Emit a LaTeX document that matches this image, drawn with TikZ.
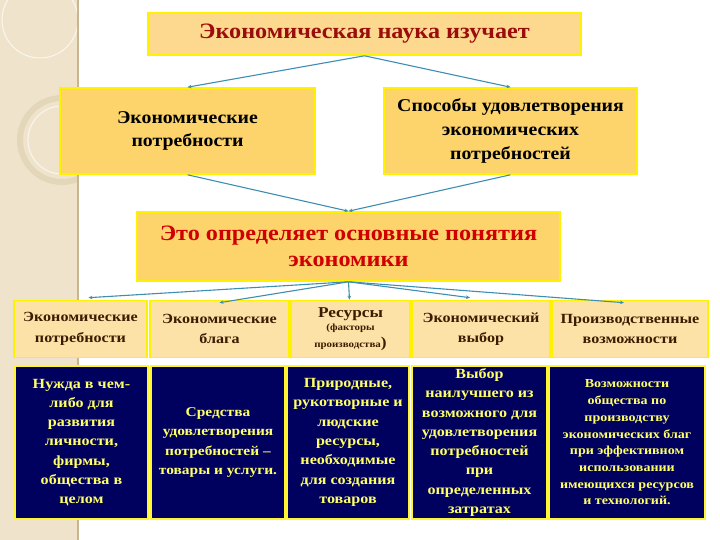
\documentclass[tikz,border=0pt]{standalone}
\usepackage{fontspec}
\setmainfont{Liberation Serif}
\newfontfamily\upfont[FakeStretch=1.1]{Liberation Serif}
\newfontfamily\lowfont[FakeStretch=1.15]{Liberation Serif}
\usetikzlibrary{arrows.meta,calc}
\definecolor{stripe}{HTML}{EFE4CB}
\definecolor{stripeline}{HTML}{C9B690}
\definecolor{topfill}{HTML}{FCD98E}
\definecolor{midfill}{HTML}{FDD46C}
\definecolor{rowfill}{HTML}{FCE2A6}
\definecolor{bord}{HTML}{FFF200}
\definecolor{navy}{HTML}{00005E}
\definecolor{ytext}{HTML}{FFFF66}
\definecolor{dred}{HTML}{9B0D0D}
\definecolor{rred}{HTML}{D00000}
\definecolor{brown}{HTML}{3B1C00}
\definecolor{conn}{HTML}{3E8EB4}
\tikzset{
  topbox/.style={draw=bord, line width=1.6pt, fill=topfill, inner sep=0pt, align=center},
  midbox/.style={draw=bord, line width=1.6pt, fill=midfill, inner sep=0pt, align=center},
  rowbox/.style={draw=bord, line width=1.6pt, fill=rowfill, inner sep=0pt, align=center, text=brown},
  darkbox/.style={draw=bord!80!white, line width=1.4pt, fill=navy, inner sep=0pt, align=center, text=ytext},
  conarrow/.style={draw=conn, line width=1.1pt, -{Stealth[length=4pt,width=3.5pt]}}
}
\begin{document}
\begin{tikzpicture}[x=1pt,y=-1pt]
\useasboundingbox (0,0) rectangle (720,540);
% background stripe
\fill[white] (0,0) rectangle (720,540);
\fill[stripe] (0,0) rectangle (78,540);
\begin{scope}
\clip (0,0) rectangle (78,540);
\draw[white!70!stripe, line width=1pt] (40,20) circle (38);
\draw[stripeline!30!stripe, line width=6pt] (62,140) circle (42);
\draw[white!60!stripe, line width=1.2pt] (62,140) circle (34);
\end{scope}
\draw[stripeline, line width=1.5pt] (78,0) -- (78,540);

% top
\node[topbox, minimum width=433pt, minimum height=42pt, text=dred,
      font=\upfont\fontsize{22}{24}\selectfont\bfseries] (top) at (364.5,34) {Экономическая наука изучает};
% second level
\node[midbox, minimum width=255pt, minimum height=86pt,
      font=\upfont\fontsize{18}{23}\selectfont\bfseries] (l2) at (187.5,131) {Экономические\\потребности};
\node[midbox, minimum width=253pt, minimum height=86pt,
      font=\upfont\fontsize{18}{24}\selectfont\bfseries] (r2) at (510.5,131) {Способы удовлетворения\\экономических\\потребностей};
% third level
\node[midbox, minimum width=423pt, minimum height=69pt, text=rred,
      font=\upfont\fontsize{22}{26}\selectfont\bfseries] (m3) at (348.5,246.5) {Это определяет основные понятия\\экономики};

% row of concepts
\node[rowbox, minimum width=133pt, minimum height=57pt,
      font=\lowfont\fontsize{14}{20.5}\selectfont\bfseries] (a1) at (80.5,329) {Экономические\\потребности};
\node[rowbox, minimum width=139pt, minimum height=57pt,
      font=\lowfont\fontsize{14}{20.5}\selectfont\bfseries] (a2) at (219.5,329) {Экономические\\блага};
\node[rowbox, minimum width=119pt, minimum height=57pt, font=\lowfont\bfseries] (a3) at (350.5,329)
  {{\fontsize{15}{16}\selectfont Ресурсы}\\[1pt]{\fontsize{9.5}{17}\selectfont (факторы}\\[3pt]{\fontsize{9.5}{17}\selectfont производства}{\fontsize{15}{17}\selectfont )}};
\node[rowbox, minimum width=138pt, minimum height=57pt,
      font=\lowfont\fontsize{14}{20.5}\selectfont\bfseries] (a4) at (481,329) {Экономический\\выбор};
\node[rowbox, minimum width=156pt, minimum height=57pt,
      font=\lowfont\fontsize{14}{20.5}\selectfont\bfseries] (a5) at (630,329) {Производственные\\возможности};

% dark definitions
\node[darkbox, minimum width=133pt, minimum height=153pt,
      font=\lowfont\fontsize{14}{19.2}\selectfont\bfseries] (b1) at (81.5,442.5)
  {Нужда в чем-\\либо для\\развития\\личности,\\фирмы,\\общества в\\целом};
\node[darkbox, minimum width=134pt, minimum height=153pt,
      font=\lowfont\fontsize{13.4}{19.3}\selectfont\bfseries] (b2) at (218,442.5)
  {Средства\\удовлетворения\\потребностей –\\товары и услуги.};
\node[darkbox, minimum width=122pt, minimum height=153pt,
      font=\lowfont\fontsize{14}{19.3}\selectfont\bfseries] (b3) at (348,442.5)
  {Природные,\\рукотворные и\\людские\\ресурсы,\\необходимые\\для создания\\товаров};
\node[darkbox, minimum width=135pt, minimum height=153pt,
      font=\lowfont\fontsize{14}{19.3}\selectfont\bfseries] (b4) at (479.5,442.5)
  {Выбор\\наилучшего из\\возможного для\\удовлетворения\\потребностей\\при\\определенных\\затратах};
\node[darkbox, minimum width=156pt, minimum height=153pt,
      font=\lowfont\fontsize{12.2}{16.7}\selectfont\bfseries] (b5) at (627,442.5)
  {Возможности\\общества по\\производству\\экономических благ\\при эффективном\\использовании\\имеющихся ресурсов\\и технологий.};

% connectors
\draw[conarrow] (top.south) -- (l2.north);
\draw[conarrow] (top.south) -- (r2.north);
\draw[conarrow] (l2.south) -- (m3.north);
\draw[conarrow] (r2.south) -- (m3.north);
\draw[conarrow] (m3.south) -- ($(a1.north)+(8,-2)$);
\draw[conarrow] (m3.south) -- ($(a2.north)+(0,3)$);
\draw[conarrow] (m3.south) -- ($(a3.north)+(-1,0)$);
\draw[conarrow] (m3.south) -- ($(a4.north)+(-11,-2)$);
\draw[conarrow] (m3.south) -- ($(a5.north)+(-6,3)$);
\end{tikzpicture}
\end{document}
